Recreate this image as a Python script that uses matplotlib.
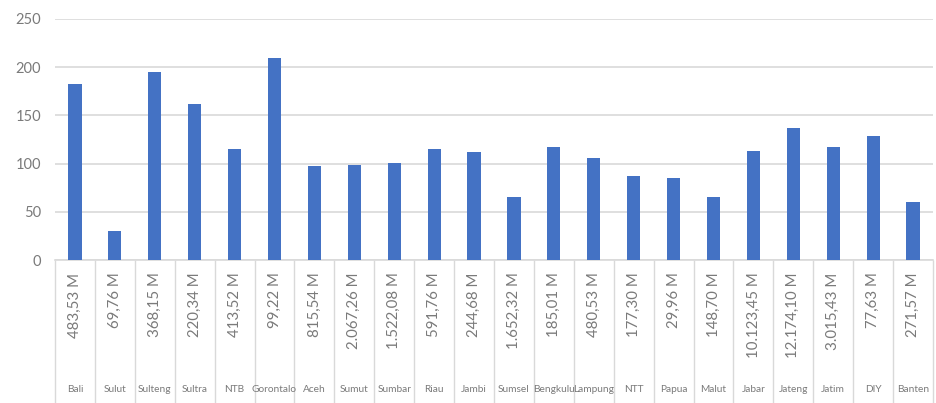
import matplotlib
matplotlib.use("Agg")
import matplotlib.pyplot as plt
import matplotlib.transforms as mtransforms
import numpy as np

# Provinces (outer label level) and their amounts (inner label level)
provinces = ["Bali", "Sulut", "Sulteng", "Sultra", "NTB", "Gorontalo", "Aceh",
             "Sumut", "Sumbar", "Riau", "Jambi", "Sumsel", "Bengkulu", "Lampung",
             "NTT", "Papua", "Malut", "Jabar", "Jateng", "Jatim", "DIY", "Banten"]
amounts = ["483,53 M", "69,76 M", "368,15 M", "220,34 M", "413,52 M", "99,22 M",
           "815,54 M", "2.067,26 M", "1.522,08 M", "591,76 M", "244,68 M",
           "1.652,32 M", "185,01 M", "480,53 M", "177,30 M", "29,96 M",
           "148,70 M", "10.123,45 M", "12.174,10 M", "3.015,43 M", "77,63 M",
           "271,57 M"]
values = [182.6, 30.5, 195.0, 162.0, 115.0, 210.0, 97.5, 99.0, 100.6, 115.5,
          111.7, 65.5, 117.5, 105.8, 87.5, 85.0, 65.5, 113.4, 137.2, 116.9,
          129.0, 60.5]
yticks = [0, 50, 100, 150, 200, 250]

bar_color = "#4472C4"
grid_color = "#d9d9d9"
text_color = "#7a7a7a"
plt.rcParams["font.family"] = ["Lato", "DejaVu Sans"]

fig = plt.figure(figsize=(9.36, 4.03), dpi=100)
ax = fig.add_axes([55 / 936, 1 - 260 / 403, (933 - 55) / 936, 241 / 403])

x = np.arange(len(provinces))
ax.bar(x, values, width=0.33, color=bar_color, zorder=3)

ax.set_xlim(-0.5, len(provinces) - 0.5)
ax.set_ylim(0, 250)
ax.set_yticks(yticks)
ax.set_yticklabels([str(t) for t in yticks], fontsize=10.5, color=text_color)
ax.tick_params(axis="y", length=0, pad=10)
ax.grid(axis="y", color=grid_color, linewidth=1.2, zorder=0)

for side in ["left", "right", "top"]:
    ax.spines[side].set_visible(False)
ax.spines["bottom"].set_color(grid_color)
ax.spines["bottom"].set_linewidth(1.2)

# Inner level: amounts, rotated
ax.set_xticks(x)
ax.set_xticklabels(amounts, rotation=90, fontsize=10.8, color=text_color,
                   va="top", ha="center")
ax.tick_params(axis="x", which="major", length=0, pad=9)

# Category separators drawn as long minor ticks
ax.set_xticks(np.arange(-0.5, len(provinces)), minor=True)
ax.tick_params(axis="x", which="minor", length=103, width=1.0, color=grid_color,
               direction="out")

# Outer level: province names
trans = mtransforms.blended_transform_factory(ax.transData, fig.transFigure)
for xi, name in zip(x, provinces):
    ax.text(xi, 1 - 390 / 403, name, transform=trans, ha="center", va="center",
            fontsize=7.3, color=text_color)

fig.savefig("out.png", dpi=100)
